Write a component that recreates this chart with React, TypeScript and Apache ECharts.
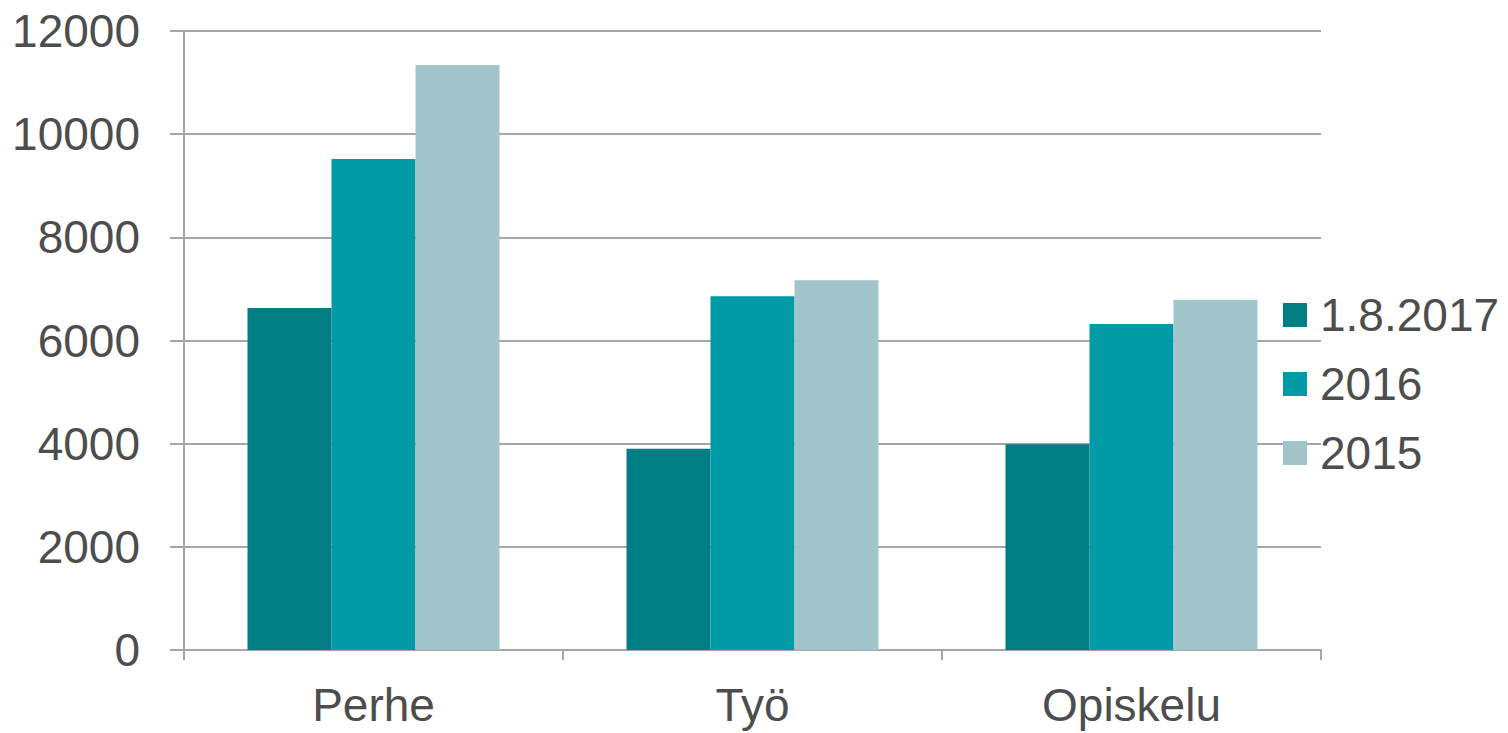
import React, { useEffect, useRef } from "react";
import * as echarts from "echarts";

const categories = ["Perhe", "Työ", "Opiskelu"];
const seriesNames = ["1.8.2017", "2016", "2015"];
const values2017 = [6630, 3900, 3990];
const values2016 = [9520, 6860, 6320];
const values2015 = [11340, 7170, 6790];
const colors = ["#007E84", "#009BA6", "#A2C5CB"];

export default function App() {
  const ref = useRef<HTMLDivElement>(null);
  useEffect(() => {
    if (!ref.current) return;
    const chart = echarts.init(ref.current, null, { renderer: "svg" });
    const font = "'Liberation Sans', Arial, sans-serif";
    const data = [values2017, values2016, values2015];
    chart.setOption({
      animation: false,
      textStyle: { fontFamily: font },
      grid: { left: 184, right: 187, top: 31, bottom: 83, containLabel: false },
      legend: {
        orient: "vertical",
        left: 1283,
        top: 292,
        padding: 0,
        itemWidth: 24,
        itemHeight: 24,
        itemGap: 23,
        icon: "rect",
        textStyle: { fontSize: 46, color: "#4D4D4D", fontFamily: font, padding: [0, 0, 0, 8] },
        data: seriesNames,
      },
      xAxis: {
        type: "category",
        data: categories,
        axisLine: { show: true, lineStyle: { color: "#A6A6A6", width: 2 } },
        axisTick: { show: true, length: 10, lineStyle: { color: "#A6A6A6", width: 2 } },
        axisLabel: { fontSize: 46, lineHeight: 46, color: "#4D4D4D", margin: 32, fontFamily: font },
      },
      yAxis: {
        type: "value",
        min: 0,
        max: 12000,
        interval: 2000,
        axisLine: { show: true, lineStyle: { color: "#A6A6A6", width: 2 } },
        axisTick: { show: true, length: 14, lineStyle: { color: "#A6A6A6", width: 2 } },
        splitLine: { show: true, lineStyle: { color: "#A6A6A6", width: 2 } },
        axisLabel: {
          fontSize: 46,
          color: "#4D4D4D",
          margin: 44,
          fontFamily: font,
          formatter: (v: number) => String(v),
        },
      },
      series: seriesNames.map((name, i) => ({
        name,
        type: "bar",
        data: data[i],
        barWidth: 84,
        barGap: "0%",
        itemStyle: { color: colors[i] },
      })),
    });
    return () => chart.dispose();
  }, []);
  return (
    <div
      ref={ref}
      style={{ position: "fixed", left: 0, top: 0, width: 1508, height: 733, background: "#fff" }}
    />
  );
}
